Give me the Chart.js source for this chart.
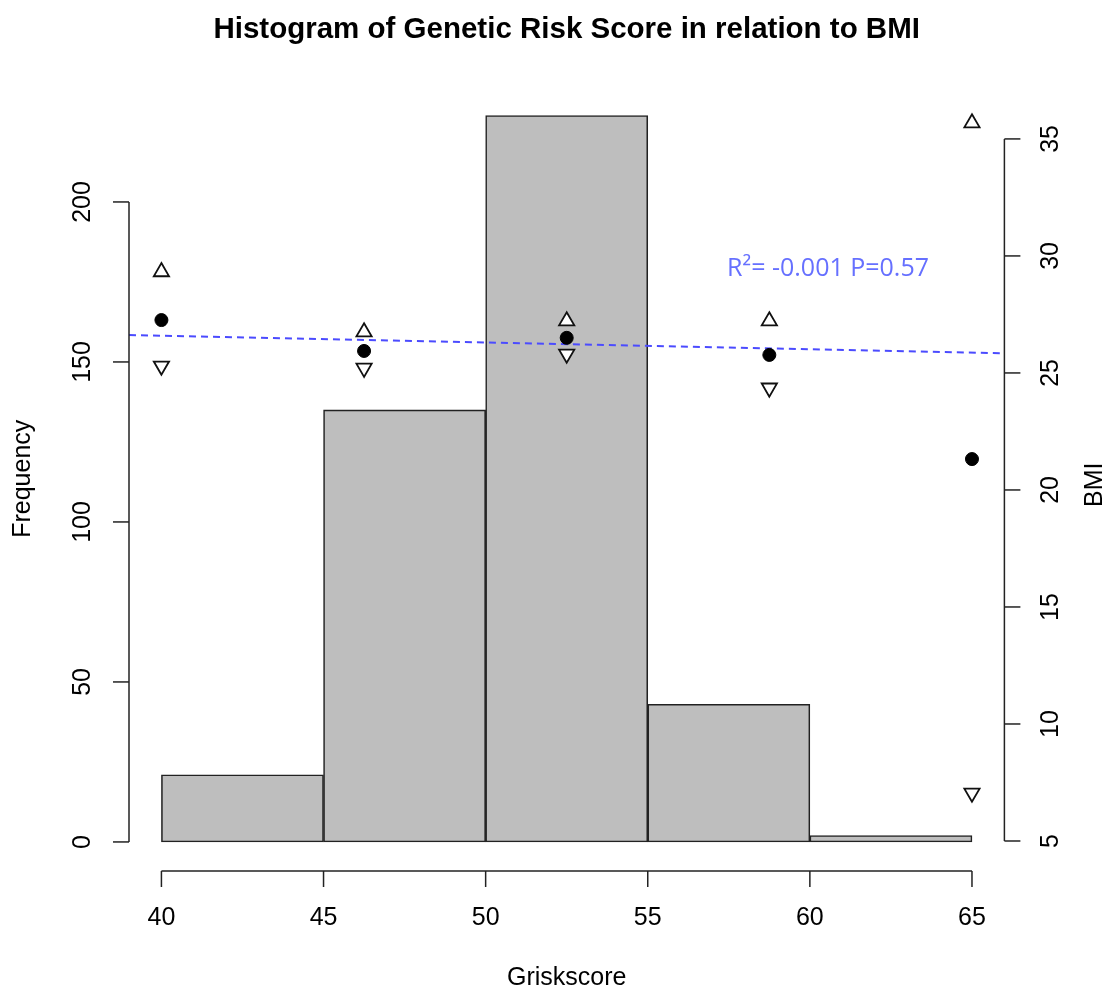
<!DOCTYPE html>
<html>
<head>
<meta charset="utf-8">
<script src="https://cdn.jsdelivr.net/npm/chart.js@4/dist/chart.umd.min.js"></script>
<style>
  body { margin: 0; background: #fff; }
  #wrap { width: 1112px; height: 994px; }
</style>
</head>
<body>
<div id="wrap"><canvas id="histChart"></canvas></div>
<script>
// histogram of the genetic risk score
let binEdges = [40, 45, 50, 55, 60, 65];
let freq = [21, 135, 227, 43, 2];

// BMI mean and upper/lower marks per score group
let groupX = [40, 46.25, 52.5, 58.75, 65];
let bmiMean = [27.26, 25.94, 26.5, 25.77, 21.32];
let bmiUpper = [29.32, 26.75, 27.22, 27.22, 35.68];
let bmiLower = [25.3, 25.21, 25.81, 24.36, 7.05];

// fitted regression line (ends of the plot region)
let fitX = [39, 66];
let fitY = [26.62, 25.84];
let fitText = 'R\u00b2= -0.001 P=0.57';
let fitTextAt = [60.56, 29.44];

let xTicks = [40, 45, 50, 55, 60, 65];
let freqTicks = [0, 50, 100, 150, 200];
let bmiTicks = [5, 10, 15, 20, 25, 30, 35];

let pts = (xs, ys) => xs.map((v, i) => ({ x: v, y: ys[i] }));
let bars = freq.map((f, i) => ({ x: (binEdges[i] + binEdges[i + 1]) / 2, y: f }));
let setTicks = (list) => (scale) => { scale.ticks = list.map(v => ({ value: v })); };

// R style axes: spine only over the tick range, rotated labels on the sides
let rAxes = {
    id: 'rAxes',
    afterDraw(chart) {
        let ctx = chart.ctx, a = chart.chartArea;
        let sx = chart.scales.x, sy = chart.scales.y, sy2 = chart.scales.y2;
        let tick = 16;
        let line = (x1, y1, x2, y2) => { ctx.beginPath(); ctx.moveTo(x1, y1); ctx.lineTo(x2, y2); ctx.stroke(); };
        let vtext = (t, x, y) => {
            ctx.save(); ctx.translate(x, y); ctx.rotate(-Math.PI / 2);
            ctx.fillText(t, 0, 0); ctx.restore();
        };
        ctx.save();
        ctx.strokeStyle = '#222';
        ctx.lineWidth = 1.5;
        ctx.fillStyle = '#000';
        ctx.font = '25px "Liberation Sans", Arial, sans-serif';
        ctx.textAlign = 'center';
        ctx.textBaseline = 'middle';

        // bottom axis
        line(sx.getPixelForValue(xTicks[0]), a.bottom, sx.getPixelForValue(xTicks[xTicks.length - 1]), a.bottom);
        xTicks.forEach(v => {
            let p = sx.getPixelForValue(v);
            line(p, a.bottom, p, a.bottom + tick);
            ctx.fillText(String(v), p, a.bottom + 47);
        });
        ctx.fillText('Griskscore', (a.left + a.right) / 2, a.bottom + 107);

        // left axis
        line(a.left, sy.getPixelForValue(freqTicks[0]), a.left, sy.getPixelForValue(freqTicks[freqTicks.length - 1]));
        freqTicks.forEach(v => {
            let p = sy.getPixelForValue(v);
            line(a.left - tick, p, a.left, p);
            vtext(String(v), a.left - 46, p);
        });
        vtext('Frequency', 23, (a.top + a.bottom) / 2);

        // right axis
        line(a.right, sy2.getPixelForValue(bmiTicks[0]), a.right, sy2.getPixelForValue(bmiTicks[bmiTicks.length - 1]));
        bmiTicks.forEach(v => {
            let p = sy2.getPixelForValue(v);
            line(a.right, p, a.right + tick, p);
            vtext(String(v), a.right + 47, p);
        });
        vtext('BMI', a.right + 91, (a.top + a.bottom) / 2 + 6);

        // fit annotation
        ctx.fillStyle = '#6670ff';
        ctx.font = '25px "Open Sans", sans-serif';
        ctx.fillText(fitText, sx.getPixelForValue(fitTextAt[0]), sy2.getPixelForValue(fitTextAt[1]));
        ctx.restore();
    }
};

let ctx = document.getElementById('histChart');
let myChart = new Chart(ctx, {
    data: {
        datasets: [
            {
                type: 'scatter', label: 'mean', data: pts(groupX, bmiMean), yAxisID: 'y2',
                pointStyle: 'circle', pointRadius: 6.5, backgroundColor: '#000', borderColor: '#000', borderWidth: 1
            },
            {
                type: 'scatter', label: 'upper', data: pts(groupX, bmiUpper), yAxisID: 'y2',
                pointStyle: 'triangle', pointRadius: 8.8, backgroundColor: '#fff', borderColor: '#111', borderWidth: 1.8
            },
            {
                type: 'scatter', label: 'lower', data: pts(groupX, bmiLower), yAxisID: 'y2',
                pointStyle: 'triangle', rotation: 180, pointRadius: 8.8, backgroundColor: '#fff', borderColor: '#111', borderWidth: 1.8
            },
            {
                type: 'line', label: 'fit', data: pts(fitX, fitY), yAxisID: 'y2',
                borderColor: '#4b4bff', borderWidth: 2, borderDash: [7, 5], pointRadius: 0, fill: false
            },
            {
                type: 'bar', label: 'Frequency', data: bars, yAxisID: 'y',
                backgroundColor: '#bebebe', borderColor: '#222', borderWidth: 1.6, borderSkipped: false,
                barPercentage: 1, categoryPercentage: 1
            }
        ]
    },
    options: {
        responsive: true,
        maintainAspectRatio: false,
        animation: false,
        layout: { padding: { left: 129, right: 107.6, top: 0, bottom: 123 } },
        scales: {
            x: { type: 'linear', min: 39, max: 66, offset: false, display: false, afterBuildTicks: setTicks(xTicks) },
            y: { type: 'linear', min: -9.08, max: 236.08, display: false, afterBuildTicks: setTicks(freqTicks) },
            y2: { type: 'linear', position: 'right', min: 3.718, max: 37.24, display: false, afterBuildTicks: setTicks(bmiTicks) }
        },
        plugins: {
            legend: { display: false },
            tooltip: { enabled: false },
            title: {
                display: true,
                text: 'Histogram of Genetic Risk Score in relation to BMI',
                color: '#000',
                font: { family: '"Liberation Sans", Arial, sans-serif', size: 29.5, weight: 'bold' },
                padding: { top: 12, bottom: 39.1 }
            }
        }
    },
    plugins: [rAxes]
});
</script>
</body>
</html>
